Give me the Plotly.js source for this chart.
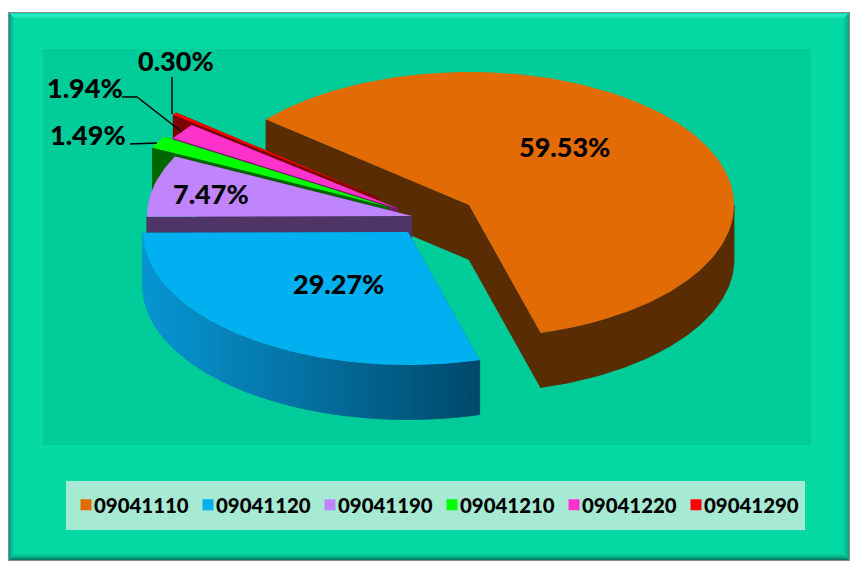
<!DOCTYPE html>
<html><head><meta charset="utf-8">
<script src="https://cdn.plot.ly/plotly-3.0.1.min.js"></script>
<style>html,body{margin:0;padding:0;background:#fff}#c{width:850px;height:561px}</style>
</head><body><div id="c"></div>
<script>
// data
const categories = ['09041110','09041120','09041190','09041210','09041220','09041290'];
const shares = [59.53,29.27,7.47,1.49,1.94,0.30];
const topColors = ['#E26B05','#00B0F0','#C085FC','#00FF00','#FF33CC','#FF0000'];
const sideColors = ['#5A2C03','#0078A8','#4F3566','#006600','#7A1A66','#7F0000'];
// 3D pie projection
const centerX = [469,408,412,389,398,379];
const centerY = [205,232,216,207,208.5,198];
const radiusX = 265, radiusY = 133, depth = 54.5, startDeg = -50;
const drawOrder = [0,5,4,3,2,1];
const labelX = [564,338,211,88,85,176];
const labelY = [147,284,194,135,88,61];

const traces = [];
function pt(i,deg,dz){const r=deg*Math.PI/180;return [centerX[i]+radiusX*Math.sin(r),centerY[i]-radiusY*Math.cos(r)+(dz||0)];}
function poly(points,color,seam){
  points=points.slice();points.push(points[0]);
  traces.push({type:'scatter',mode:'lines',x:points.map(p=>p[0]),y:points.map(p=>p[1]),fill:'toself',fillcolor:color,
    line:{width:seam?0.8:0,color:color},hoverinfo:'skip',showlegend:false});
}
function lerp(a,b,t){return 'rgb('+a.map((v,k)=>Math.round(v+(b[k]-v)*t)).join(',')+')';}
let acc=startDeg; const starts=[],ends=[];
shares.forEach((v,i)=>{starts[i]=acc;acc+=v*3.6;ends[i]=acc;});
function arc(i,a,b,dz){const n=Math.max(2,Math.ceil(Math.abs(b-a)));const o=[];for(let k=0;k<=n;k++)o.push(pt(i,a+(b-a)*k/n,dz));return o;}
drawOrder.forEach(i=>{
  const a=starts[i],b=ends[i],c=[centerX[i],centerY[i]],cd=[centerX[i],centerY[i]+depth];
  [a,b].forEach(d=>poly([pt(i,d),c,cd,pt(i,d,depth)],sideColors[i],i===0));
  // outer wall on the front half only
  const lo=Math.max(a,90),hi=Math.min(b,270);
  if(hi>lo){
    if(i===1){
      const n=Math.ceil(hi-lo)/1;
      for(let k=0;k<n;k++){
        const d0=hi-(hi-lo)*k/n,d1=hi-(hi-lo)*(k+1)/n;
        const x=(pt(i,d0)[0]-143)/(479-143);
        poly(arc(i,d0,d1).concat(arc(i,d1,d0,depth)),lerp([9,150,212],[0,72,106],x),true);
      }
    } else poly(arc(i,lo,hi).concat(arc(i,hi,lo,depth)),sideColors[i],true);
  }
  poly([c].concat(arc(i,a,b)),topColors[i]);
});
// leader lines
const leaders=[[[130,144],[157,143]],[[122,97],[137,97],[182,132]],[[172,77],[172,114]]];
leaders.forEach(l=>traces.push({type:'scatter',mode:'lines',x:l.map(p=>p[0]),y:l.map(p=>p[1]),line:{color:'#000',width:1.5},hoverinfo:'skip',showlegend:false}));
// legend entries
categories.forEach((c,i)=>traces.push({type:'scatter',mode:'markers',x:[null],y:[null],name:c,marker:{symbol:'square',size:11,color:topColors[i]},hoverinfo:'skip'}));

function rect(x0,y0,x1,y1,color){return {type:'rect',xref:'x',yref:'y',x0,y0,x1,y1,fillcolor:color,line:{width:0},layer:'below'};}
function path(d,color){return {type:'path',xref:'x',yref:'y',path:d,fillcolor:color,line:{width:0},layer:'below'};}
const L=9,T=13,R=849,B=560,W=8;
const shapes=[rect(8,12,850,561,'#8A8A8A'),rect(L,T,R,B,'#05DAA5')];
const topC=['#12DDAE','#1FE6B8','#2BEFC2','#22E8BA','#14E0AE','#0BDCA8','#07DAA6','#05DAA5'];
const leftC=['#00A27E','#02AE88','#03BA92','#04C59A','#04CEA0','#05D5A3','#05D8A4','#05DAA5'];
const rightC=['#07A886','#07B18C','#06BA93','#06C399','#06CB9E','#05D2A1','#05D7A4','#05DAA5'];
const botC=['#067A60','#07906F','#07A27E','#07B28A','#06C094','#06CB9C','#05D4A1','#05DAA5'];
for(let k=0;k<W;k++){
  const k1=k+1;
  shapes.push(path(`M${L+k},${T+k}L${R-k},${T+k}L${R-k1},${T+k1}L${L+k1},${T+k1}Z`,topC[k]));
  shapes.push(path(`M${L+k},${T+k}L${L+k1},${T+k1}L${L+k1},${B-k1}L${L+k},${B-k}Z`,leftC[k]));
  shapes.push(path(`M${R-k},${T+k}L${R-k1},${T+k1}L${R-k1},${B-k1}L${R-k},${B-k}Z`,rightC[k]));
  shapes.push(path(`M${L+k},${B-k}L${R-k},${B-k}L${R-k1},${B-k1}L${L+k1},${B-k1}Z`,botC[k]));
}
shapes.push(rect(43,49,811,445,'#00CC99'));
shapes.push(rect(66,481,805,530,'#A6EAD3'));

const annotations=shares.map((v,i)=>({xref:'x',yref:'y',x:labelX[i],y:labelY[i]-0.5,text:v.toFixed(2)+'%',showarrow:false,
  font:{family:'Lato, "Open Sans", sans-serif',size:27,color:'#000',weight:900},xanchor:'center',yanchor:'middle'}));

const layout={width:850,height:561,margin:{l:0,r:0,t:0,b:0},paper_bgcolor:'#fff',plot_bgcolor:'rgba(0,0,0,0)',
  xaxis:{range:[0,850],visible:false,fixedrange:true},yaxis:{range:[561,0],visible:false,fixedrange:true},
  shapes,annotations,showlegend:true,hovermode:false,
  legend:{orientation:'h',x:54/850,y:1-(505/561),xanchor:'left',yanchor:'middle',bgcolor:'rgba(0,0,0,0)',borderwidth:0,
    font:{family:'Lato, "Open Sans", sans-serif',size:20.4,color:'#000',weight:900},entrywidth:77,entrywidthmode:'pixels',itemclick:false,itemdoubleclick:false,tracegroupgap:0}};
Plotly.newPlot('c',traces,layout,{displayModeBar:false,staticPlot:false}).then(gd=>{
  gd.querySelectorAll('.legend .legendsymbols').forEach(s=>{s.setAttribute('transform','translate(12,0)');});
  gd.querySelectorAll('.legend .scrollbox').forEach(s=>{s.removeAttribute('clip-path');s.style.clipPath='none';});
  const lg=gd.querySelector('.legend'); if(lg){lg.removeAttribute('clip-path');lg.style.clipPath='none';}
});
</script></body></html>
